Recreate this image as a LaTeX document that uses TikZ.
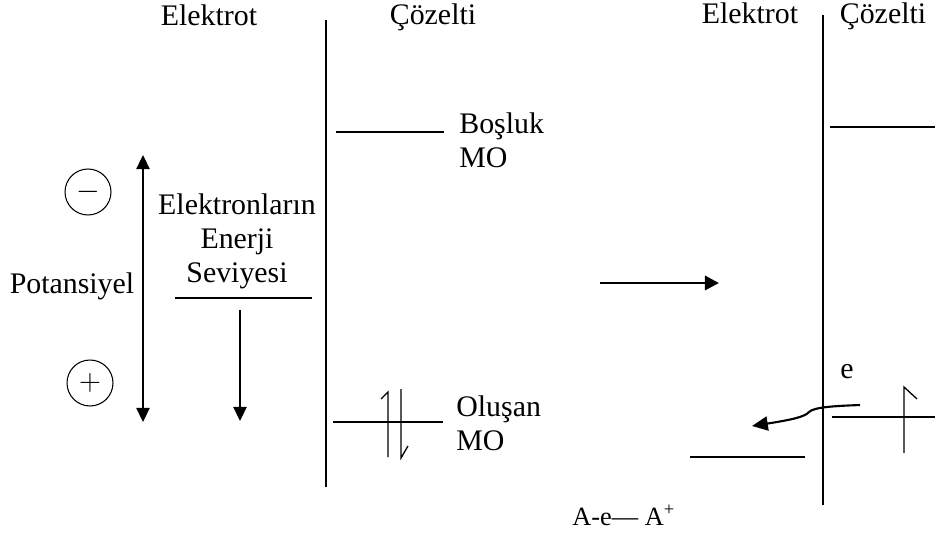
\documentclass[tikz,border=0pt]{standalone}
\usepackage{fontspec}
\setmainfont{Liberation Serif}
\usetikzlibrary{arrows.meta}

\begin{document}
\begin{tikzpicture}[
  x=0.02cm, y=-0.02cm,
  font=\fontsize{17}{19.5}\selectfont,
  label text/.style={
    inner sep=0pt,
    anchor=base
  },
  stack text/.style={
    inner sep=0pt,
    align=#1
  },
  charge/.style={
    circle,
    draw,
    line width=0.6pt,
    minimum size=0.92cm,
    inner sep=0pt
  },
  wall/.style={line width=0.9pt},
  level/.style={line width=0.8pt},
  spin/.style={line width=0.75pt},
  potential arrow/.style={
    line width=1pt,
    {Triangle[length=8pt,width=7.5pt]}-{Triangle[length=8pt,width=7.5pt]}
  },
  energy arrow/.style={
    line width=1pt,
    -{Triangle[length=8pt,width=7.5pt]}
  },
  step arrow/.style={
    line width=1.7pt,
    -{Triangle[length=8pt,width=8pt]}
  },
  electron/.style={
    line width=1.2pt,
    -{Triangle[length=9pt,width=8pt]}
  }
]
\useasboundingbox (0,0) rectangle (935,533);

% interfaces
\coordinate (wallL-top) at (326,20);
\coordinate (wallL-bot) at (326,487);
\coordinate (wallR-top) at (823,15);
\coordinate (wallR-bot) at (823,505);
\draw[wall] (wallL-top) -- (wallL-bot);
\draw[wall] (wallR-top) -- (wallR-bot);

% headers
\node[label text] (elektrotL) at (209,26) {Elektrot};
\node[label text] (cozeltiL) at (433,25) {Çözelti};
\node[label text] (elektrotR) at (750,24) {Elektrot};
\node[label text] (cozeltiR) at (883,24) {Çözelti};

% energy levels
\foreach \name/\xa/\xb/\yy in {bosluk/336/444/132, olusan/333/443/422,
    seviye/175/312/298, ustR/830/935/127, altR/832/935/417, fermiR/690/805/457} {
  \draw[level] (\xa,\yy) coordinate (\name-a) -- (\xb,\yy) coordinate (\name-b);
}

% electrons
\draw[spin] (388,457) -- (388,392) -- (381,399);
\draw[spin] (401,389) -- (401,458) -- (408,446);
\draw[spin] (904,453) -- (904,387) -- (917,399);

% labels
\node[stack text=left, anchor=north west] (bosluk) at (459,112) {Boşluk\\MO};
\node[stack text=left, anchor=north west] (olusan) at (456,395) {Oluşan\\MO};
\node[stack text=center, anchor=north] (enerji) at (237,193) {Elektronların\\Enerji\\Seviyesi};
\node[label text] (potansiyel) at (72,293) {Potansiyel};
\node[charge] (eksi) at (88,192) {$-$};
\node[charge] (arti) at (90,383) {$+$};

% arrows
\coordinate (pot-top) at (143,155);
\coordinate (pot-bot) at (143,422);
\coordinate (seviye-ok) at (240,310);
\coordinate (seviye-uc) at (240,421);
\coordinate (gecis-a) at (600,283);
\coordinate (gecis-b) at (719,283);
\draw[potential arrow] (pot-top) -- (pot-bot);
\draw[energy arrow] (seviye-ok) -- (seviye-uc);
\draw[step arrow] (gecis-a) -- (gecis-b);

% electron transfer
\node[label text] (e) at (847,378) {e};
\coordinate (e-bas) at (860,405);
\coordinate (e-son) at (752,426);
\draw[electron] (e-bas) .. controls (835,406) and (814,407) .. (809,412)
  .. controls (805,417) and (790,420) .. (e-son);
\node[label text, anchor=base west, font=\fontsize{15}{15}\selectfont] (tepkime) at (572,525)
  {A-e\textemdash\ A\textsuperscript{+}};
\end{tikzpicture}
\end{document}
